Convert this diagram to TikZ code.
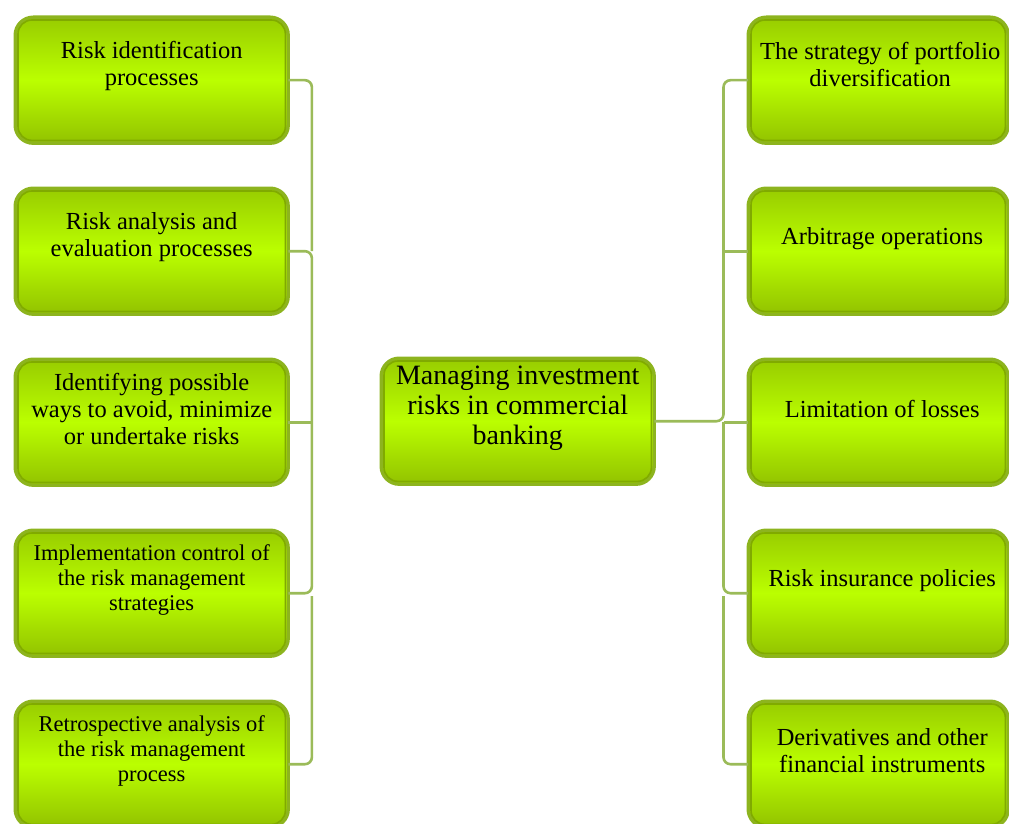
\documentclass[tikz,border=0pt]{standalone}
\usepackage{fontspec}
\setmainfont{Liberation Serif}
\usetikzlibrary{calc}
\definecolor{conncol}{HTML}{9BBB59}
\definecolor{bordo}{HTML}{8DB41E}
\definecolor{binner}{HTML}{80AA00}
\definecolor{ftop}{HTML}{98CC00}
\definecolor{fmid}{HTML}{BBFF00}
\definecolor{fbot}{HTML}{92C200}
\begin{document}
\begin{tikzpicture}[x=1pt,y=-1pt,
  box/.style={draw=bordo, line width=3.4pt, rounded corners=18pt,
    top color=ftop, bottom color=fbot, middle color=fmid,
    minimum width=273pt, minimum height=126pt, inner sep=0pt, anchor=north west},
  rbox/.style={box, minimum width=260pt},
  inbox/.style={draw=binner, line width=1.6pt, rounded corners=14pt},
  lbl/.style={align=center, inner sep=0pt, font=\fontsize{24.5}{27}\selectfont},
  slbl/.style={align=center, inner sep=0pt, font=\fontsize{22.5}{25}\selectfont},
  clbl/.style={align=center, inner sep=0pt, font=\fontsize{28}{30}\selectfont},
  conn/.style={draw=conncol, line width=2.6pt, rounded corners=7pt}]
\useasboundingbox (0,0) rectangle (1009,824);
% left boxes
\node[box] (b1) at (13.5,15.5) {};
\node[box] (b2) at (13.5,186.5) {};
\node[box] (b3) at (13.5,357.5) {};
\node[box] (b4) at (13.5,528.5) {};
\node[box] (b5) at (13.5,699.5) {};
% center box
\node[box] (c) at (379.5,356.5) {};
% right boxes
\node[rbox] (r1) at (746.5,15.5) {};
\node[rbox] (r2) at (746.5,186.5) {};
\node[rbox] (r3) at (746.5,357.5) {};
\node[rbox] (r4) at (746.5,528.5) {};
\node[rbox] (r5) at (746.5,699.5) {};
% inner lines
\foreach \n in {b1,b2,b3,b4,b5,c,r1,r2,r3,r4,r5}{
  \draw[inbox] ([xshift=4.5pt,yshift=-4.5pt]\n.north west) rectangle ([xshift=-4.5pt,yshift=4.5pt]\n.south east);
}
% texts
\node[lbl] (t1) at ([yshift=14pt]b1.center) {Risk identification\\processes};
\node[lbl] (t2) at ([yshift=14pt]b2.center) {Risk analysis and\\evaluation processes};
\node[lbl] (t3) at ([yshift=13pt]b3.center) {Identifying possible\\ways to avoid, minimize\\or undertake risks};
\node[slbl] (t4) at ([yshift=13pt]b4.center) {Implementation control of\\the risk management\\strategies};
\node[slbl] (t5) at ([yshift=13pt]b5.center) {Retrospective analysis of\\the risk management\\process};
\node[clbl] (tc) at ([yshift=13pt]c.center) {Managing investment\\risks in commercial\\banking};
\node[lbl] (u1) at ([xshift=2pt,yshift=15.5pt]r1.center) {The strategy of portfolio\\diversification};
\node[lbl] (u2) at ([xshift=4pt,yshift=13pt]r2.center) {Arbitrage operations};
\node[lbl] (u3) at ([xshift=4pt,yshift=13pt]r3.center) {Limitation of losses};
\node[lbl] (u4) at ([xshift=4pt,yshift=13pt]r4.center) {Risk insurance policies};
\node[lbl] (u5) at ([xshift=4pt,yshift=14pt]r5.center) {Derivatives and other\\financial instruments};
% left connectors
\draw[conn] ([xshift=-1.5pt]b1.east) -| ([xshift=22pt]b2.east);
\draw[conn] ([xshift=-1.5pt]b2.east) -| ([xshift=22pt]b4.east) -- ([xshift=-1.5pt]b4.east);
\draw[conn] ([xshift=-1.5pt]b3.east) -- ([xshift=22pt]b3.east);
\draw[conn] ([xshift=22pt,yshift=-3pt]b4.east) |- ([xshift=-1.5pt]b5.east);
% right connectors
\draw[conn] ([xshift=-1.5pt]c.east) -| ([xshift=-23pt]r1.west) -- ([xshift=1.5pt]r1.west);
\draw[conn] ([xshift=1.5pt]r2.west) -- ([xshift=-23pt]r2.west);
\draw[conn] ([xshift=-23pt]r3.west) -- ([xshift=1.5pt]r3.west);
\draw[conn] ([xshift=-23pt]r3.west) |- ([xshift=1.5pt]r4.west);
\draw[conn] ([xshift=-23pt,yshift=-3pt]r4.west) |- ([xshift=1.5pt]r5.west);
\end{tikzpicture}
\end{document}
